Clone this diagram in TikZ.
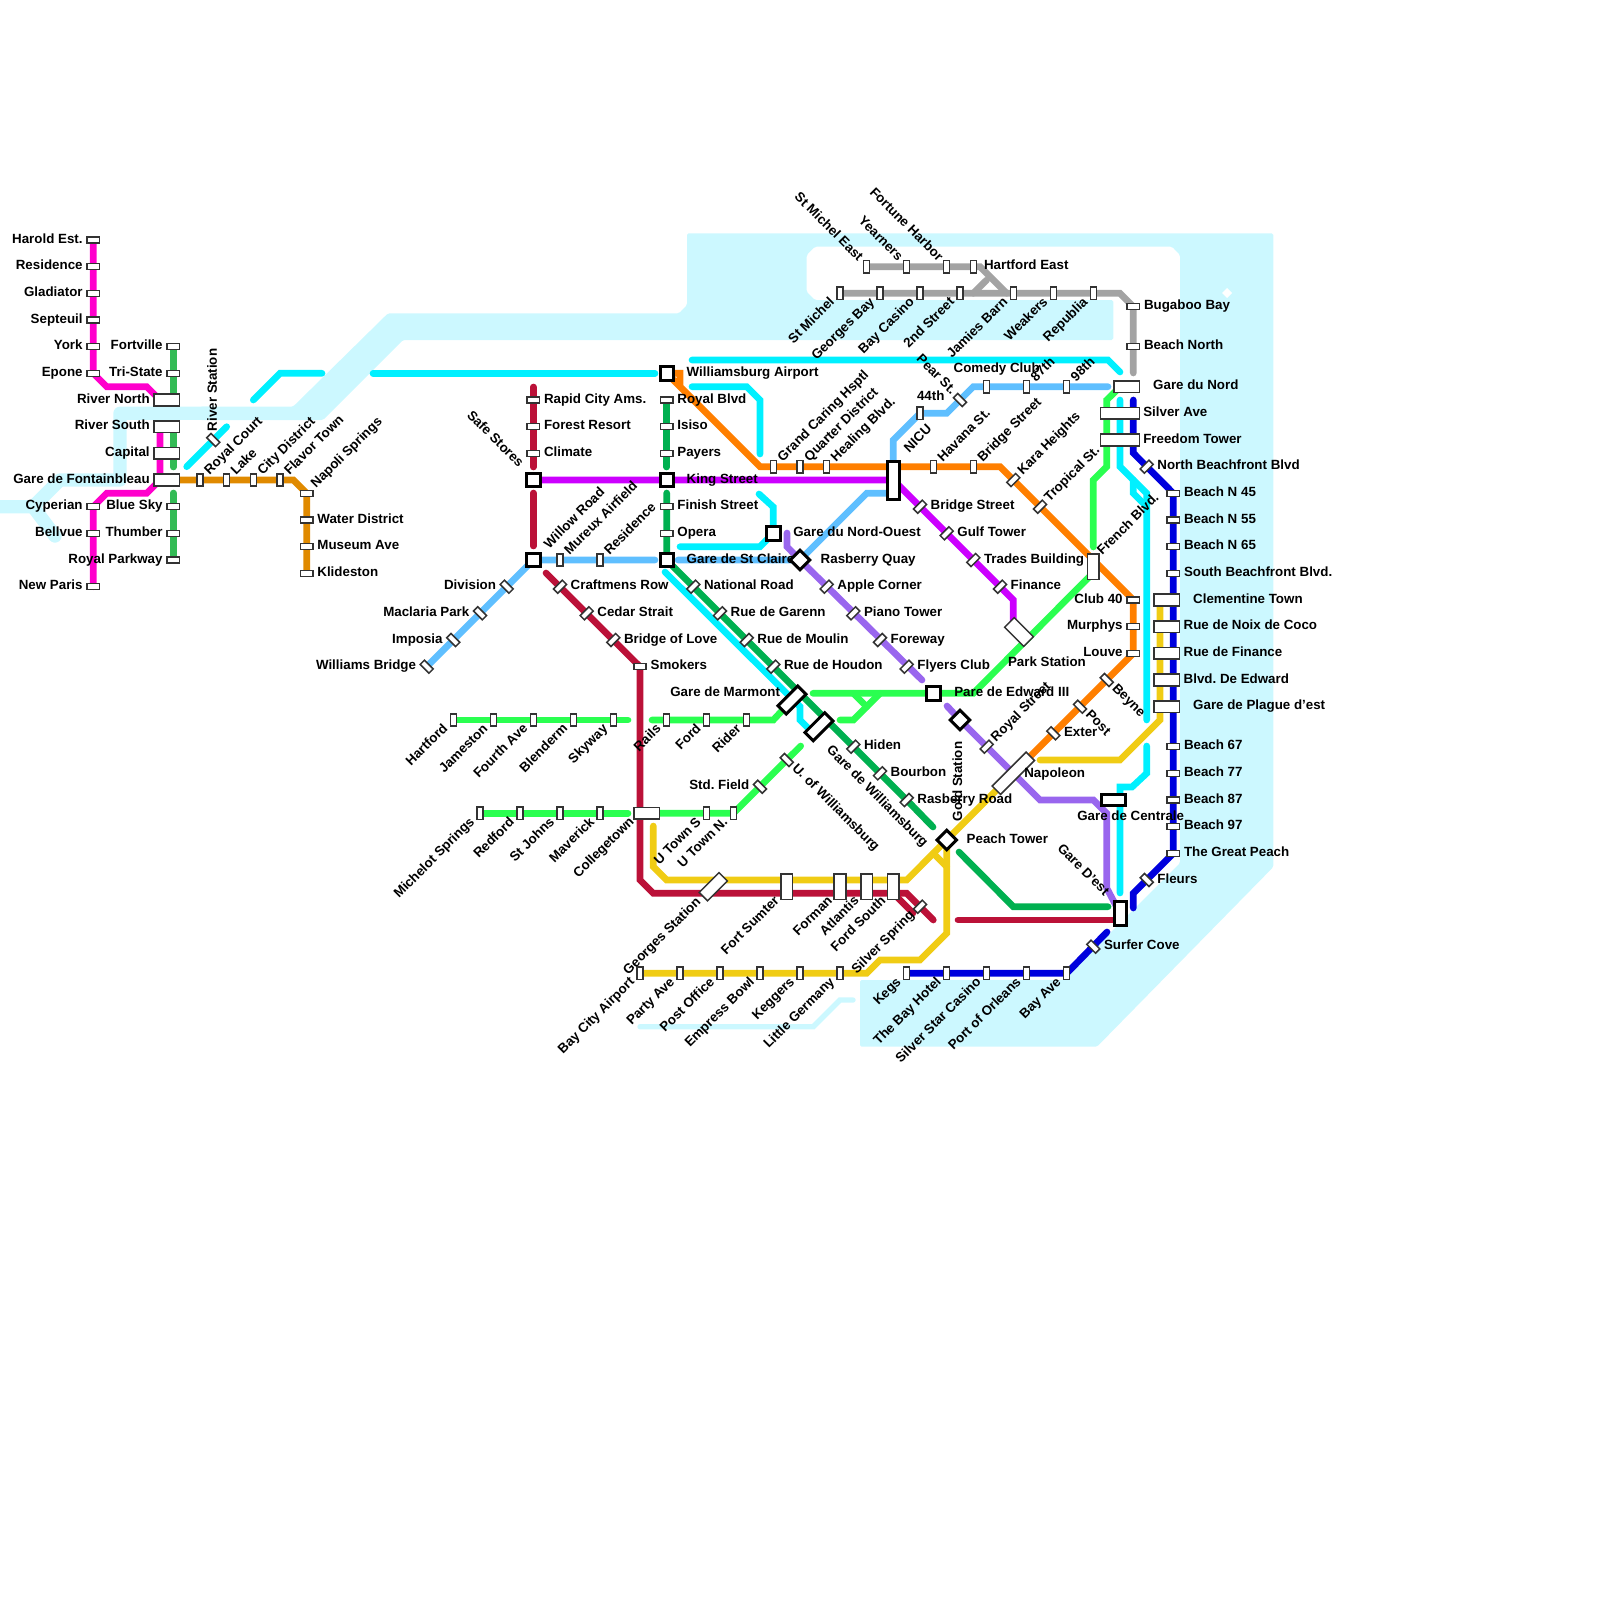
\documentclass[tikz,border=0pt]{standalone}
\usepackage{fontspec}
\setmainfont{Liberation Sans}
\usetikzlibrary{backgrounds}
\definecolor{water}{HTML}{CCF8FF}
\definecolor{cMag}{HTML}{FF00CC}
\definecolor{cGrn}{HTML}{33BB55}
\definecolor{cBrn}{HTML}{E08A00}
\definecolor{cCya}{HTML}{00F0FF}
\definecolor{cLbl}{HTML}{5FBFFF}
\definecolor{cCri}{HTML}{BB1138}
\definecolor{cPur}{HTML}{CC00FF}
\definecolor{cDgr}{HTML}{00B050}
\definecolor{cLim}{HTML}{2AFF50}
\definecolor{cOra}{HTML}{FF7F00}
\definecolor{cGra}{HTML}{A3A3A3}
\definecolor{cYel}{HTML}{F0CC14}
\definecolor{cLav}{HTML}{9966EE}
\definecolor{cDbl}{HTML}{0000DD}
\definecolor{stk}{HTML}{333333}
\tikzset{
 stbase/.style={draw=stk,fill=white,line width=.75pt,inner sep=0pt,outer sep=0pt},
 sv/.style={stbase,minimum width=6.2pt,minimum height=3pt},
 sh/.style={stbase,minimum width=3pt,minimum height=6.2pt},
 sd/.style={sv,rotate=45},
 sa/.style={sv,rotate=-45},
 bx/.style 2 args={stbase,minimum width=#1pt,minimum height=#2pt},
 tk/.style 2 args={stbase,draw=black,line width=1.5pt,minimum width=#1pt,minimum height=#2pt},
 sqr/.style={tk={6.7}{6.7}},
 dia/.style={tk={6.9}{6.9},rotate=45},
 txt/.style={inner sep=0pt,outer sep=0pt,font=\fontsize{6.67pt}{8pt}\selectfont\bfseries\frenchspacing},
 le/.style={anchor=base east},
 ri/.style={anchor=base west},
 upw/.style={rotate=45,anchor=base west},
 dnw/.style={rotate=45,anchor=base east},
 ule/.style={rotate=-45,anchor=base east},
 dri/.style={rotate=-45,anchor=base west},
 ln/.style={line width=3.33pt,line cap=round,line join=miter,miter limit=3},
}
\newcommand\sta[7]{\node[#1] (#2) at (#3,#4) {}; \node[txt,#5] (#2t) at ([shift={(#6)}]#2.center) {#7};}
\newcommand\vL[4]{\sta{sv}{#1}{#2}{#3}{le}{-10.7,3}{#4}}
\newcommand\vR[4]{\sta{sv}{#1}{#2}{#3}{ri}{10.7,3}{#4}}
\newcommand\hU[4]{\sta{sh}{#1}{#2}{#3}{upw}{9.5,-4.5}{#4}}
\newcommand\hD[4]{\sta{sh}{#1}{#2}{#3}{dnw}{-5,9.5}{#4}}
\newcommand\hN[4]{\sta{sh}{#1}{#2}{#3}{ule}{-9,-5}{#4}}
\newcommand\aR[4]{\sta{sd}{#1}{#2}{#3}{ri}{10.7,3}{#4}}
\newcommand\cR[4]{\sta{sa}{#1}{#2}{#3}{ri}{10.7,3}{#4}}
\newcommand\cL[4]{\sta{sa}{#1}{#2}{#3}{le}{-10.7,3}{#4}}
\newcommand\cD[4]{\sta{sa}{#1}{#2}{#3}{dri}{5,9}{#4}}
\begin{document}
\begin{tikzpicture}[x=0.5pt,y=-0.5pt]
\useasboundingbox (0,0) rectangle (1600,1600);
% ---- left
\vL{hare}{93.3}{240}{Harold Est.}
\vL{resi}{93.3}{266.7}{Residence}
\vL{glad}{93.3}{293.3}{Gladiator}
\vL{sept}{93.3}{320}{Septeuil}
\vL{york}{93.3}{346.7}{York}
\vL{epon}{93.3}{373.3}{Epone}
\vL{cype}{93.3}{506.7}{Cyperian}
\vL{bell}{93.3}{533.3}{Bellvue}
\vL{newp}{93.3}{586.7}{New Paris}
\vL{fort}{173.3}{346.7}{Fortville}
\vL{tris}{173.3}{373.3}{Tri-State}
\vL{blue}{173.3}{506.7}{Blue Sky}
\vL{thum}{173.3}{533.3}{Thumber}
\vL{royp}{173.3}{560}{Royal Parkway}
\sta{bx={12.6}{5.9}}{rivn}{166.7}{400}{le}{-17,3}{River North}
\sta{bx={12.6}{5.9}}{rivs}{166.7}{426.7}{le}{-17,3}{River South}
\sta{bx={12.6}{5.9}}{capi}{166.7}{453.3}{le}{-17,3}{Capital}
\sta{bx={12.6}{5.9}}{gfon}{166.7}{480}{le}{-17,3}{Gare de Fontainbleau}
\hU{rcou}{200}{480}{Royal Court}
\hU{lake}{226.7}{480}{Lake}
\hU{city}{253.3}{480}{City District}
\hU{flav}{280}{480}{Flavor Town}
\sta{sv}{napo}{306.7}{493.3}{upw}{9.5,-4.5}{Napoli Springs}
\vR{wdis}{306.7}{520}{Water District}
\vR{muse}{306.7}{546.7}{Museum Ave}
\vR{klid}{306.7}{573.3}{Klideston}
\sta{sa}{rsta}{213.3}{440}{rotate=90,anchor=base west}{3.5,-9}{River Station}
% ---- light blue / crimson
\cL{wbri}{426.7}{666.7}{Williams Bridge}
\cL{impo}{453.3}{640}{Imposia}
\cL{macl}{480}{613.3}{Maclaria Park}
\cL{divi}{506.7}{586.7}{Division}
\sta{sqr}{safe}{533.3}{480}{ule}{-15,-12}{Safe Stores}
\sta{sqr}{will}{533.3}{560}{upw}{16,-11}{Willow Road}
\vR{rapi}{533.3}{400}{Rapid City Ams.}
\vR{fres}{533.3}{426.7}{Forest Resort}
\vR{clim}{533.3}{453.3}{Climate}
\aR{craf}{560}{586.7}{Craftmens Row}
\aR{ceda}{586.7}{613.3}{Cedar Strait}
\aR{blov}{613.3}{640}{Bridge of Love}
\vR{smok}{640}{666.7}{Smokers}
\hU{mure}{560}{560}{Mureux Airfield}
\hU{res2}{600}{560}{Residence}
% ---- lime rows
\hD{hart}{453.3}{720}{Hartford}
\hD{jame}{493.3}{720}{Jameston}
\hD{four}{533.3}{720}{Fourth Ave}
\hD{blen}{573.3}{720}{Blenderm}
\hD{skyw}{613.3}{720}{Skyway}
\hD{rail}{666.7}{720}{Rails}
\hD{ford}{706.7}{720}{Ford}
\hD{ride}{746.7}{720}{Rider}
\hD{mich}{480}{813.3}{Michelot Springs}
\hD{redf}{520}{813.3}{Redford}
\hD{stjo}{560}{813.3}{St Johns}
\hD{mave}{600}{813.3}{Maverick}
\sta{bx={12.6}{5.9}}{coll}{646.7}{813.3}{dnw}{-12,9}{Collegetown}
\hD{utos}{706.7}{813.3}{U Town S}
\hD{uton}{733.3}{813.3}{U Town N.}
\cL{stdf}{760}{786.7}{Std. Field}
\cD{uofw}{786.7}{760}{U. of Williamsburg}
% ---- yellow / blue bottom
\hD{bcit}{640}{973.3}{Bay City Airport}
\hD{part}{680}{973.3}{Party Ave}
\hD{pofi}{720}{973.3}{Post Office}
\hD{empr}{760}{973.3}{Empress Bowl}
\hD{kegg}{800}{973.3}{Keggers}
\hD{litg}{840}{973.3}{Little Germany}
\hD{kegs}{906.7}{973.3}{Kegs}
\hD{tbay}{946.7}{973.3}{The Bay Hotel}
\hD{ssca}{986.7}{973.3}{Silver Star Casino}
\hD{port}{1026.7}{973.3}{Port of Orleans}
\hD{baya}{1066.7}{973.3}{Bay Ave}
\sta{bx={5.9}{12.6}}{fsum}{786.7}{886.7}{dnw}{-7,15}{Fort Sumter}
\sta{bx={5.9}{12.6}}{form}{840}{886.7}{dnw}{-7,15}{Forman}
\sta{bx={5.9}{12.6}}{atla}{866.7}{886.7}{dnw}{-7,15}{Atlantis}
\sta{bx={5.9}{12.6}}{fsou}{893.3}{886.7}{dnw}{-7,15}{Ford South}
\sta{bx={14}{5.9},rotate=45}{gsta}{713.3}{886.7}{dnw}{-12,16}{Georges Station}
\sta{sd}{sspr}{920}{906.7}{dnw}{-5,9.5}{Silver Spring}
% ---- central
\sta{sqr}{wair}{666.7}{373.3}{ri}{20,3}{Williamsburg Airport}
\vR{royb}{666.7}{400}{Royal Blvd}
\vR{isis}{666.7}{426.7}{Isiso}
\vR{paye}{666.7}{453.3}{Payers}
\sta{sqr}{king}{666.7}{480}{ri}{20,3}{King Street}
\vR{fini}{666.7}{506.7}{Finish Street}
\vR{oper}{666.7}{533.3}{Opera}
\sta{sqr}{stcl}{666.7}{560}{ri}{20,3}{Gare de St Claire}
\sta{sqr}{gnou}{773.3}{533.3}{ri}{20,3}{Gare du Nord-Ouest}
\sta{dia}{rasq}{800}{560}{ri}{20.7,3}{Rasberry Quay}
\aR{natr}{693.3}{586.7}{National Road}
\aR{ruga}{720}{613.3}{Rue de Garenn}
\aR{rumo}{746.7}{640}{Rue de Moulin}
\aR{ruho}{773.3}{666.7}{Rue de Houdon}
\aR{appl}{826.7}{586.7}{Apple Corner}
\aR{pian}{853.3}{613.3}{Piano Tower}
\aR{fore}{880}{640}{Foreway}
\aR{flye}{906.7}{666.7}{Flyers Club}
\aR{hide}{853.3}{746.7}{Hiden}
\aR{bour}{880}{773.3}{Bourbon}
\aR{rasr}{906.7}{800}{Rasberry Road}
\sta{tk={14}{5.9},rotate=45}{gmar}{792}{700}{le}{-12,-4}{Gare de Marmont}
\sta{tk={14}{5.9},rotate=45}{gwil}{819}{726.7}{dri}{7,24}{Gare de Williamsburg}
\sta{sqr}{pare}{933.3}{693.3}{ri}{21,3}{Pare de Edward III}
\sta{dia}{gold}{960}{720}{rotate=90,anchor=base west}{2,101}{Gold Station}
\sta{dia}{peac}{946.7}{840}{ri}{20,3}{Peach Tower}
\sta{sd}{rstr}{986.7}{746.7}{upw}{9.5,-4.5}{Royal Street}
\sta{bx={24}{5.9},rotate=45}{napl}{1013.3}{773.3}{ri}{11,4}{Napoleon}
\sta{bx={13.5}{6.8},rotate=-45}{park}{1019}{632}{ri}{-11,34}{Park Station}
% ---- top
\hU{gcar}{773.3}{466.7}{Grand Caring Hsptl}
\hU{quar}{800}{466.7}{Quarter District}
\hU{heal}{826.7}{466.7}{Healing Blvd.}
\sta{tk={6}{19}}{nicu}{893.3}{480}{upw}{16,-27}{NICU}
\hU{hava}{933.3}{466.7}{Havana St.}
\hU{brid}{973.3}{466.7}{Bridge Street}
\sta{sd}{kara}{1013.3}{480}{upw}{9.5,-4.5}{Kara Heights}
\sta{sd}{trop}{1040}{506.7}{upw}{9.5,-4.5}{Tropical St.}
\aR{bstr}{920}{506.7}{Bridge Street}
\aR{gulf}{946.7}{533.3}{Gulf Tower}
\aR{trad}{973.3}{560}{Trades Building}
\aR{fina}{1000}{586.7}{Finance}
\hN{smie}{866.7}{266.7}{St Michel East}
\hN{year}{906.7}{266.7}{Yearners}
\hN{fhar}{946.7}{266.7}{Fortune Harbor}
\sta{sh}{hari}{973.3}{266.7}{ri}{10.7,3}{Hartford East}
\hD{smic}{840}{293.3}{St Michel}
\hD{geob}{880}{293.3}{Georges Bay}
\hD{bcas}{920}{293.3}{Bay Casino}
\hD{stre}{960}{293.3}{2nd Street}
\hD{jami}{1013.3}{293.3}{Jamies Barn}
\hD{weak}{1053.3}{293.3}{Weakers}
\hD{repu}{1093.3}{293.3}{Republia}
\vR{bugb}{1133.3}{306.7}{Bugaboo Bay}
\vR{bnor}{1133.3}{346.7}{Beach North}
\sta{sh}{e44}{920}{413.3}{ri}{-3,-13}{44th}
\sta{sa}{pear}{960}{400}{ule}{-9,-5}{Pear St.}
\sta{sh}{come}{986.7}{386.7}{ri}{-33,-14}{Comedy Club}
\hU{e87}{1026.7}{386.7}{87th}
\hU{e98}{1066.7}{386.7}{98th}
% ---- right
\sta{bx={12.6}{5.9}}{gnor}{1126.7}{386.7}{ri}{26.5,3}{Gare du Nord}
\sta{bx={19.3}{5.9}}{silv}{1120}{413.3}{ri}{23.3,3}{Silver Ave}
\sta{bx={19.3}{5.9}}{free}{1120}{440}{ri}{23.3,3}{Freedom Tower}
\aR{nbch}{1146.7}{466.7}{North Beachfront Blvd}
\vR{bn45}{1173.3}{493.3}{Beach N 45}
\vR{bn55}{1173.3}{520}{Beach N 55}
\vR{bn65}{1173.3}{546.7}{Beach N 65}
\vR{sbch}{1173.3}{573.3}{South Beachfront Blvd.}
\sta{bx={12.6}{5.9}}{clem}{1166.7}{600}{ri}{26.5,3}{Clementine Town}
\sta{bx={12.6}{5.9}}{rnoi}{1166.7}{626.7}{ri}{17,3}{Rue de Noix de Coco}
\sta{bx={12.6}{5.9}}{rfin}{1166.7}{653.3}{ri}{17,3}{Rue de Finance}
\sta{bx={12.6}{5.9}}{bede}{1166.7}{680}{ri}{17,3}{Blvd. De Edward}
\sta{bx={12.6}{5.9}}{gpla}{1166.7}{706.7}{ri}{26.5,3}{Gare de Plague d'est}
\vR{b67}{1173.3}{746.7}{Beach 67}
\vR{b77}{1173.3}{773.3}{Beach 77}
\vR{b87}{1173.3}{800}{Beach 87}
\vR{b97}{1173.3}{826.7}{Beach 97}
\vR{tgp}{1173.3}{853.3}{The Great Peach}
\cR{fleu}{1146.7}{880}{Fleurs}
\cR{surf}{1093.3}{946.7}{Surfer Cove}
\sta{bx={5.9}{12.6}}{fren}{1093.3}{566.7}{upw}{9,-11}{French Blvd.}
\vL{clu4}{1133.3}{600}{Club 40}
\vL{murp}{1133.3}{626.7}{Murphys}
\vL{louv}{1133.3}{653.3}{Louve}
\cD{beyn}{1106.7}{680}{Beyne}
\cD{posk}{1080}{706.7}{Post}
\cR{exte}{1053.3}{733.3}{Exter}
\sta{tk={12}{5.9}}{gcen}{1113.3}{800}{ri}{-36,20}{Gare de Centrale}
\sta{tk={6}{12}}{gdes}{1120}{913.3}{ule}{-16,-17}{Gare D'est}
% ---- water and lines
\begin{scope}[on background layer]
\fill[water,rounded corners=0.8pt] (293,406.7)--(388,313.3)--(679,313.3)--(687,305)--(687,233.3)--(1273.3,233.3)--(1273.3,867)--(1097,1046.7)--(860,1046.7)--(860,980)--(1063,980)--(1180,863)--(1180,255)--(1172,246.7)--(815,246.7)--(806.7,255)--(806.7,292)--(815,300)--(1113.3,300)--(1113.3,340)--(403,340)--(323,420)--(200,420)--(200,406.7)--cycle;
\draw[water,line width=6.67pt,line join=round,line cap=round] (-10,506.7)--(33,506.7)--(60,480)--(120,480)--(120,413.3)--(210,413.3);
\draw[water,line width=6.67pt,line cap=round] (33,506.7)--(55,536);
\draw[water,line width=2.7pt,line cap=round] (640,1026.7)--(813.3,1026.7)--(840,1000)--(853,1000);
\fill[white] (1227,288)--(1232,293)--(1227,298)--(1222,293)--cycle;
\draw[ln,cMag] (hare.center)--(epon.center)--(106.7,386.7)--(146.7,386.7)--(160,400);
\draw[ln,cMag] (160,426.7)--(160,480)--(146.7,493.3)--(106.7,493.3)--(cype.center)--(newp.center);
\draw[ln,cGrn] (fort.center)--(fort |- rivn);
\draw[ln,cGrn] (fort |- rivs)--(173.3,467);
\draw[ln,cGrn] (173.3,493)--(royp.center);
\draw[ln,cBrn] (gfon.center)--(293.3,480)--(napo.center)--(klid.center);
\draw[ln,cCya] (186.7,466.7)--(rsta.center)--(226.7,426.7);
\draw[ln,cCya] (253.3,400)--(280,373.3)--(322,373.3);
\draw[ln,cCya] (373,373.3)--(655,373.3);
\draw[ln,cCya] (692,360)--(1108,360)--(1120,372);
\draw[ln,cCya] (692,386.7)--(746.7,386.7)--(760,400)--(760,454);
\draw[ln,cCya] (759,494)--(773.3,507)--(gnou.center)--(760,546.7)--(680,546.7);
\draw[ln,cCya] (665,572)--(793.3,700)--(800,706.7)--(800,720)--(813,733);
\draw[ln,cCya] (1120,400)--(1120,466.7)--(1146.7,493.3)--(1146.7,720);
\draw[ln,cCya] (1133.3,480)--(1133.3,493.3)--(1146.7,506.7);
\draw[ln,cCya] (1146.7,746)--(1146.7,773.3)--(1132,787)--(1120,787)--(1120,893);
\draw[ln,cCri] (533.3,387)--(533.3,467);
\draw[ln,cCri] (533.3,493)--(533.3,546);
\draw[ln,cCri] (546,573)--(smok.center)--(640,880)--(653.3,893.3)--(906.7,893.3)--(933.3,920);
\draw[ln,cCri] (893.3,893.3)--(913,913);
\draw[ln,cCri] (958,920)--(1113,920);
\draw[ln,cPur] (safe.center)--(nicu.center)--(fina.center)--(1013.3,600)--(1013.3,627);
\draw[ln,cDgr] (royb.center)--(666.7,467);
\draw[ln,cDgr] (666.7,493)--(stcl.center)--(rasr.center)--(933,827);
\draw[ln,cDgr] (959,852)--(1013.3,906.7)--(1108,906.7);
\draw[ln,cLbl] (wbri.center)--(will.center)--(655,560);
\draw[ln,cLbl] (678,560)--(rasq.center)--(813.3,546.7)--(866.7,493.3)--(893.3,493.3);
\draw[ln,cLbl] (nicu.center)--(893.3,440)--(920,413.3)--(946.7,413.3)--(973.3,386.7)--(1108,386.7);
\draw[ln,cLim] (hart.center)--(628,720);
\draw[ln,cLim] (652,720)--(773.3,720)--(gmar.center);
\draw[ln,cLim] (mich.center)--(628,813.3);
\draw[ln,cLim] (coll.center)--(uton.center)--(800.7,746);
\draw[ln,cLim] (813,693.3)--(973.3,693.3)--(1096,570);
\draw[ln,cLim] (840,720)--(853.3,720)--(880,693.3);
\draw[ln,cLim] (853.3,693.3)--(866.7,706.7);
\draw[ln,cLim] (1093.3,547)--(1093.3,480)--(1106.7,466.7)--(1106.7,400)--(1120,387);
\draw[ln,cOra] (680,386.7)--(680,373.3)--(wair.center)--(760,466.7)--(1000,466.7)--(1133.3,600)--(louv.center)--(napl.center);
\draw[ln,cGra] (smie.center)--(980,266.7)--(1006.7,293.3);
\draw[ln,cGra] (smic.center)--(1120,293.3)--(1133.3,306.7)--(1133.3,373);
\draw[ln,cGra] (973.3,293.3)--(986.7,280);
\draw[ln,cYel] (1160,607)--(1160,720)--(1120,760)--(1040,760);
\draw[ln,cYel] (653.3,826)--(653.3,866.7)--(666.7,880)--(906.7,880)--(napl.center);
\draw[ln,cYel] (bcit.center)--(866.7,973.3)--(880,960)--(920,960)--(946.7,933.3)--(peac.center);
\draw[ln,cYel] (933.3,853.3)--(946.7,866.7);
\draw[ln,cLav] (787,533)--(787,546.7)--(rasq.center)--(922,680);
\draw[ln,cLav] (947,706)--(gold.center)--(1040,800)--(1093.3,800)--(1106.7,813.3)--(1106.7,888)--(gdes.center);
\draw[ln,cDbl] (1133.3,400)--(1133.3,453)--(bn45.center)--(tgp.center)--(1133.3,893.3)--(1133.3,908);
\draw[ln,cDbl] (1107,932)--(baya.center)--(kegs.center);
\end{scope}
\end{tikzpicture}
\end{document}
